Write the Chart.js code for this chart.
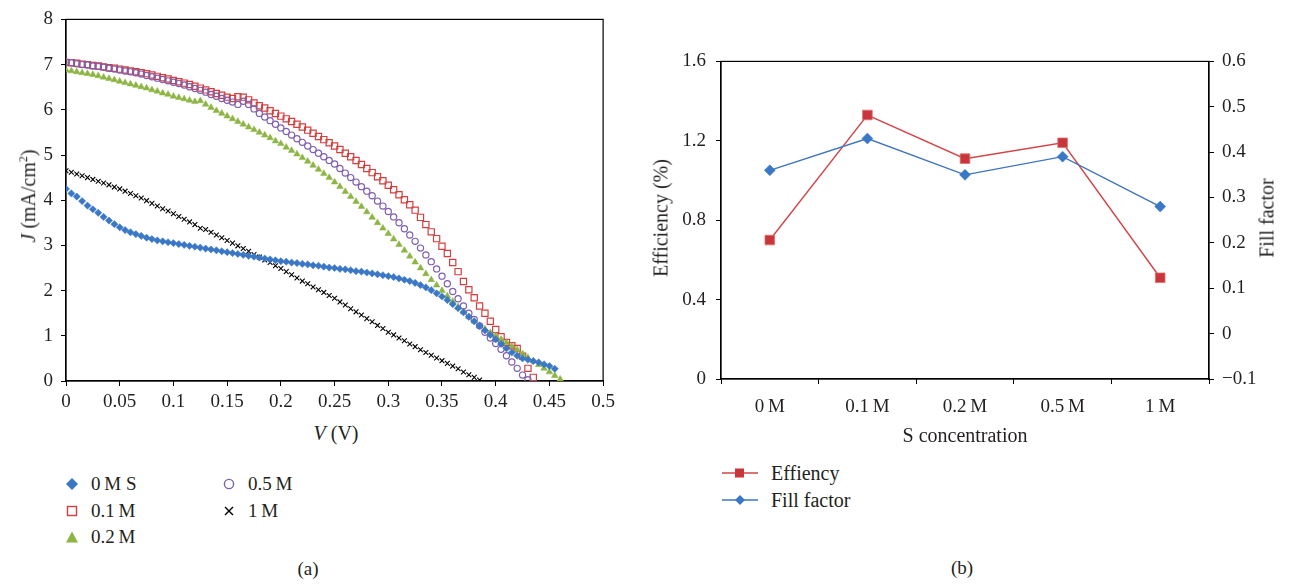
<!DOCTYPE html>
<html>
<head>
<meta charset="utf-8">
<script src="https://cdn.jsdelivr.net/npm/chart.js@4.4.0/dist/chart.umd.min.js"></script>
<style>
  body { margin: 0; background: #fff; width: 1293px; height: 586px; position: relative; overflow: hidden;
         font-family: 'Liberation Serif', 'DejaVu Serif', serif; color: #231f20; }
  canvas { position: absolute; }
  #cA { left: 0; top: 0; }
  #cB { left: 640px; top: 40px; }
  .t { position: absolute; white-space: nowrap; font-size: 20px; transform: translate(-50%, -50%); }
  .rot { transform: translate(-50%, -50%) rotate(-90deg); }
  .leg { position: absolute; white-space: nowrap; font-size: 19px; transform: translateY(-50%); }
  .mk { position: absolute; transform: translate(-50%, -50%); }
</style>
</head>
<body>
<canvas id="cA" width="620" height="420"></canvas>
<canvas id="cB" width="653" height="400"></canvas>

<!-- axis titles (a) -->
<div class="t rot" style="left:28px; top:196px;"><i>J</i> (mA/cm<sup style="font-size:12px">2</sup>)</div>
<div class="t" style="left:336px; top:433px;"><i>V</i> (V)</div>

<!-- legend (a) -->
<svg class="mk" style="left:72px; top:484px;" width="14" height="14"><polygon points="7,1 13,7 7,13 1,7" fill="#3a78c6"/></svg>
<div class="leg" style="left:91px; top:484px;">0&#8201;M S</div>
<svg class="mk" style="left:72px; top:511px;" width="14" height="14"><rect x="2.5" y="2.5" width="9" height="9" fill="none" stroke="#d33f3f" stroke-width="1.4"/></svg>
<div class="leg" style="left:91px; top:511px;">0.1&#8201;M</div>
<svg class="mk" style="left:72px; top:537px;" width="14" height="14"><polygon points="7,1.5 13,12.5 1,12.5" fill="#8cb543"/></svg>
<div class="leg" style="left:91px; top:537px;">0.2&#8201;M</div>
<svg class="mk" style="left:229px; top:484px;" width="14" height="14"><circle cx="7" cy="7" r="4.6" fill="none" stroke="#7f5fb0" stroke-width="1.4"/></svg>
<div class="leg" style="left:248px; top:484px;">0.5&#8201;M</div>
<svg class="mk" style="left:229px; top:511px;" width="14" height="14"><path d="M3,3 L11,11 M11,3 L3,11" stroke="#000" stroke-width="1.4"/></svg>
<div class="leg" style="left:248px; top:511px;">1&#8201;M</div>
<div class="t" style="left:308px; top:569px; font-size:19px;">(a)</div>

<!-- axis titles (b) -->
<div class="t rot" style="left:661px; top:218px;">Efficiency (%)</div>
<div class="t rot" style="left:1267px; top:218px;">Fill factor</div>
<div class="t" style="left:965px; top:435px;">S concentration</div>

<!-- legend (b) -->
<svg class="mk" style="left:740px; top:473px;" width="38" height="14"><line x1="1" y1="7" x2="37" y2="7" stroke="#d34446" stroke-width="1.4"/><rect x="14" y="2.5" width="9" height="9" fill="#c8353a"/></svg>
<div class="leg" style="left:771px; top:473px; font-size:20px;">Effiency</div>
<svg class="mk" style="left:740px; top:500px;" width="38" height="14"><line x1="1" y1="7" x2="37" y2="7" stroke="#3e74bd" stroke-width="1.4"/><polygon points="19,2 24,7 19,12 14,7" fill="#3a78c6"/></svg>
<div class="leg" style="left:771px; top:500px; font-size:20px;">Fill factor</div>
<div class="t" style="left:962px; top:568px; font-size:19px;">(b)</div>

<script>
// voltage steps (V), shared by all J-V curves
const voltage = [
  0, 0.005, 0.01, 0.015, 0.02, 0.025, 0.03, 0.035, 0.04, 0.045,
  0.05, 0.055, 0.06, 0.065, 0.07, 0.075, 0.08, 0.085, 0.09, 0.095,
  0.1, 0.105, 0.11, 0.115, 0.12, 0.125, 0.13, 0.135, 0.14, 0.145,
  0.15, 0.155, 0.16, 0.165, 0.17, 0.175, 0.18, 0.185, 0.19, 0.195,
  0.2, 0.205, 0.21, 0.215, 0.22, 0.225, 0.23, 0.235, 0.24, 0.245,
  0.25, 0.255, 0.26, 0.265, 0.27, 0.275, 0.28, 0.285, 0.29, 0.295,
  0.3, 0.305, 0.31, 0.315, 0.32, 0.325, 0.33, 0.335, 0.34, 0.345,
  0.35, 0.355, 0.36, 0.365, 0.37, 0.375, 0.38, 0.385, 0.39, 0.395,
  0.4, 0.405, 0.41, 0.415, 0.42, 0.425, 0.43, 0.435, 0.44, 0.445,
  0.45, 0.455, 0.46
];

// current density (mA/cm2)
const j0M = [
  4.25, 4.15, 4.08, 3.98, 3.88, 3.80, 3.72, 3.63, 3.55, 3.47,
  3.40, 3.34, 3.29, 3.25, 3.21, 3.17, 3.14, 3.11, 3.09, 3.07,
  3.05, 3.03, 3.01, 2.99, 2.97, 2.95, 2.93, 2.91, 2.89, 2.87,
  2.85, 2.83, 2.81, 2.79, 2.77, 2.75, 2.73, 2.71, 2.69, 2.67,
  2.65, 2.64, 2.62, 2.61, 2.59, 2.58, 2.56, 2.55, 2.53, 2.51,
  2.50, 2.48, 2.47, 2.45, 2.43, 2.42, 2.40, 2.38, 2.36, 2.34,
  2.32, 2.30, 2.27, 2.24, 2.21, 2.17, 2.12, 2.07, 2.01, 1.94,
  1.87, 1.79, 1.70, 1.61, 1.52, 1.42, 1.32, 1.22, 1.12, 1.02,
  0.92, 0.82, 0.72, 0.63, 0.56, 0.50, 0.47, 0.44, 0.41, 0.37,
  0.33, 0.27
];
const j01M = [
  7.05, 7.04, 7.03, 7.01, 7.00, 6.98, 6.97, 6.95, 6.93, 6.92,
  6.90, 6.88, 6.86, 6.84, 6.82, 6.80, 6.77, 6.74, 6.71, 6.68,
  6.65, 6.62, 6.59, 6.56, 6.52, 6.48, 6.44, 6.40, 6.36, 6.32,
  6.28, 6.25, 6.29, 6.28, 6.22, 6.15, 6.09, 6.04, 5.98, 5.92,
  5.86, 5.80, 5.74, 5.68, 5.62, 5.55, 5.48, 5.41, 5.34, 5.27,
  5.20, 5.12, 5.04, 4.96, 4.88, 4.79, 4.70, 4.61, 4.52, 4.43,
  4.33, 4.23, 4.12, 4.01, 3.90, 3.78, 3.62, 3.46, 3.30, 3.15,
  2.98, 2.82, 2.62, 2.42, 2.20, 2.02, 1.84, 1.66, 1.50, 1.32,
  1.14, 0.98, 0.85, 0.78, 0.72, 0.55, 0.28, 0.08
];
const j02M = [
  6.88, 6.86, 6.84, 6.82, 6.80, 6.78, 6.75, 6.72, 6.69, 6.66,
  6.63, 6.60, 6.57, 6.54, 6.51, 6.48, 6.44, 6.41, 6.37, 6.34,
  6.30, 6.27, 6.24, 6.21, 6.18, 6.20, 6.12, 6.05, 5.98, 5.92,
  5.86, 5.80, 5.74, 5.68, 5.62, 5.56, 5.50, 5.44, 5.38, 5.31,
  5.25, 5.17, 5.10, 5.02, 4.94, 4.86, 4.77, 4.68, 4.59, 4.50,
  4.40, 4.30, 4.19, 4.08, 3.97, 3.86, 3.74, 3.62, 3.50, 3.38,
  3.26, 3.14, 3.02, 2.89, 2.76, 2.63, 2.50, 2.37, 2.24, 2.12,
  2.00, 1.88, 1.76, 1.64, 1.53, 1.42, 1.32, 1.23, 1.15, 1.07,
  1.00, 0.92, 0.85, 0.77, 0.69, 0.60, 0.52, 0.44, 0.36, 0.28,
  0.20, 0.12, 0.04
];
const j05M = [
  7.05, 7.04, 7.02, 7.00, 6.99, 6.97, 6.96, 6.94, 6.92, 6.90,
  6.88, 6.86, 6.84, 6.82, 6.79, 6.76, 6.73, 6.70, 6.67, 6.64,
  6.61, 6.58, 6.55, 6.51, 6.47, 6.43, 6.39, 6.34, 6.30, 6.25,
  6.21, 6.17, 6.12, 6.19, 6.12, 6.02, 5.92, 5.84, 5.76, 5.68,
  5.60, 5.52, 5.44, 5.36, 5.28, 5.20, 5.12, 5.04, 4.96, 4.88,
  4.80, 4.70, 4.60, 4.50, 4.40, 4.30, 4.20, 4.10, 3.98, 3.87,
  3.75, 3.63, 3.50, 3.37, 3.23, 3.09, 2.94, 2.79, 2.64, 2.48,
  2.32, 2.15, 1.98, 1.82, 1.66, 1.50, 1.36, 1.22, 1.08, 0.95,
  0.83, 0.70, 0.56, 0.42, 0.28, 0.13, 0.03
];
const j1M = [
  4.65, 4.62, 4.58, 4.54, 4.50, 4.46, 4.42, 4.38, 4.34, 4.29,
  4.25, 4.20, 4.15, 4.10, 4.05, 3.99, 3.93, 3.87, 3.81, 3.76,
  3.70, 3.64, 3.58, 3.52, 3.46, 3.38, 3.35, 3.29, 3.23, 3.17,
  3.11, 3.05, 2.99, 2.93, 2.87, 2.80, 2.74, 2.68, 2.62, 2.55,
  2.49, 2.42, 2.35, 2.28, 2.21, 2.15, 2.08, 2.02, 1.96, 1.89,
  1.83, 1.75, 1.68, 1.60, 1.53, 1.46, 1.38, 1.31, 1.23, 1.16,
  1.08, 1.02, 0.95, 0.89, 0.82, 0.76, 0.69, 0.63, 0.57, 0.51,
  0.45, 0.39, 0.33, 0.27, 0.20, 0.14, 0.08, 0.02
];

// panel (b)
const concLabels = ['0\u2009M', '0.1\u2009M', '0.2\u2009M', '0.5\u2009M', '1\u2009M'];
const efficiency = [0.70, 1.33, 1.11, 1.19, 0.51];
const fillFactor = [0.36, 0.43, 0.35, 0.39, 0.28];

const serif = "'Liberation Serif', 'DejaVu Serif', serif";
Chart.defaults.font.family = serif;
const tickFont = { family: serif, size: 19 };
const ink = '#231f20';

const pts = (ys) => ys.map((y, i) => ({ x: voltage[i], y: y }));

// box around the plot area
const frameBox = {
    id: 'frameBox',
    beforeDatasetsDraw(chart) {
        const { ctx, chartArea: a } = chart;
        ctx.save();
        ctx.strokeStyle = '#000';
        ctx.lineWidth = 1.2;
        ctx.strokeRect(a.left, a.top, a.right - a.left, a.bottom - a.top);
        ctx.restore();
    }
};

const axisGrid = { drawOnChartArea: false, drawTicks: true, tickLength: 5, color: '#000', lineWidth: 1 };
const axisBorder = { display: true, color: '#000', width: 1.2 };

function drawCharts() {
    // --- PANEL A: J-V curves ---
    new Chart(document.getElementById('cA'), {
        type: 'scatter',
        data: {
            datasets: [
                { label: '0 M S', data: pts(j0M), pointStyle: 'rectRot', pointRadius: 3.6,
                  backgroundColor: '#3a78c6', borderColor: '#3a78c6', borderWidth: 0.5 },
                { label: '1 M', data: pts(j1M), pointStyle: 'crossRot', pointRadius: 3.4,
                  borderColor: '#000', borderWidth: 1.1 },
                { label: '0.5 M', data: pts(j05M), pointStyle: 'circle', pointRadius: 3.1,
                  backgroundColor: 'rgba(0,0,0,0)', borderColor: '#7f5fb0', borderWidth: 1.2 },
                { label: '0.2 M', data: pts(j02M), pointStyle: 'triangle', pointRadius: 3.8,
                  backgroundColor: '#8cb543', borderColor: '#8cb543', borderWidth: 0.5 },
                { label: '0.1 M', data: pts(j01M), pointStyle: 'rect', pointRadius: 4.4,
                  backgroundColor: 'rgba(0,0,0,0)', borderColor: '#d33f3f', borderWidth: 1.2 }
            ]
        },
        options: {
            responsive: false, animation: false,
            layout: { padding: { top: 11, right: 16, left: 0, bottom: 0 } },
            plugins: { legend: { display: false }, tooltip: { enabled: false } },
            scales: {
                x: {
                    type: 'linear', min: 0, max: 0.5,
                    grid: axisGrid, border: axisBorder,
                    ticks: { stepSize: 0.05, color: ink, font: tickFont, padding: 5, maxRotation: 0,
                             callback: v => String(+v.toFixed(2)) },
                    afterFit: s => { s.height = 39; }
                },
                y: {
                    min: 0, max: 8,
                    grid: axisGrid, border: axisBorder,
                    ticks: { stepSize: 1, color: ink, font: tickFont, padding: 8 },
                    afterFit: s => { s.width = 66; }
                }
            }
        },
        plugins: [frameBox]
    });

    // --- PANEL B: efficiency & fill factor ---
    new Chart(document.getElementById('cB'), {
        type: 'line',
        data: {
            labels: concLabels,
            datasets: [
                { label: 'Fill factor', data: fillFactor, yAxisID: 'y1',
                  borderColor: '#3e74bd', borderWidth: 1.4, pointStyle: 'rectRot', pointRadius: 5.5,
                  pointBackgroundColor: '#3a78c6', pointBorderColor: '#3a78c6', pointBorderWidth: 0.5 },
                { label: 'Effiency', data: efficiency, yAxisID: 'y',
                  borderColor: '#d34446', borderWidth: 1.4, pointStyle: 'rect', pointRadius: 6.8,
                  pointBackgroundColor: '#c8353a', pointBorderColor: '#e07070', pointBorderWidth: 0.8 }
            ]
        },
        options: {
            responsive: false, animation: false,
            layout: { padding: { top: 18, right: 0, left: 0, bottom: 0 } },
            plugins: { legend: { display: false }, tooltip: { enabled: false } },
            scales: {
                x: {
                    offset: true,
                    grid: Object.assign({}, axisGrid, { offset: true }), border: axisBorder,
                    ticks: { color: ink, font: tickFont, padding: 12, maxRotation: 0 },
                    afterFit: s => { s.height = 61; }
                },
                y: {
                    position: 'left', min: 0, max: 1.6,
                    grid: axisGrid, border: axisBorder,
                    ticks: { stepSize: 0.4, color: ink, font: tickFont, padding: 10,
                             callback: v => Math.abs(v) < 1e-9 ? '0' : v.toFixed(1) },
                    afterFit: s => { s.width = 81; }
                },
                y1: {
                    position: 'right', min: -0.1, max: 0.6,
                    grid: axisGrid, border: axisBorder,
                    ticks: { stepSize: 0.1, color: ink, font: tickFont, padding: 8,
                             callback: v => Math.abs(v) < 1e-9 ? '0' : (v < 0 ? '\u2212' + (-v).toFixed(1) : v.toFixed(1)) },
                    afterFit: s => { s.width = 84; }
                }
            }
        },
        plugins: [frameBox]
    });
}

// make sure the serif face is ready before the canvases draw text
document.fonts.load('19px "Liberation Serif"').then(drawCharts, drawCharts);
</script>
</body>
</html>
